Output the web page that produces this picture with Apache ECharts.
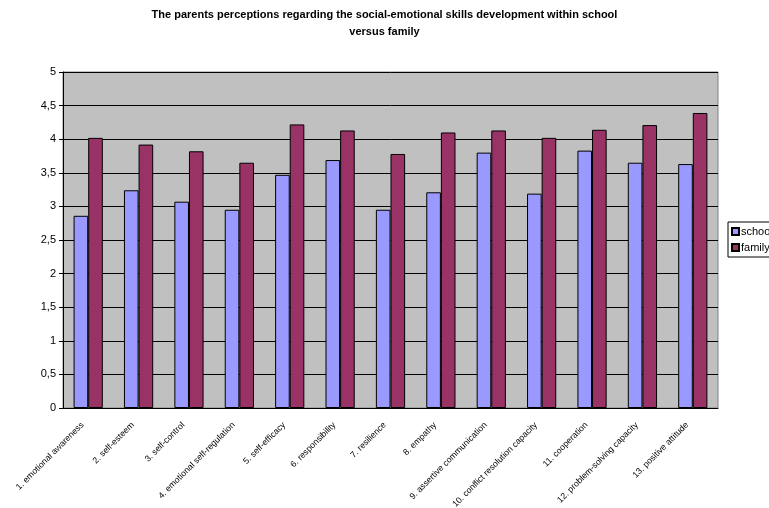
<!DOCTYPE html>
<html>
<head>
<meta charset="utf-8">
<script src="https://cdn.jsdelivr.net/npm/echarts@6/dist/echarts.min.js"></script>
<style>
  html, body { margin: 0; padding: 0; background: #fff; }
  #chart { width: 769px; height: 508px; }
</style>
</head>
<body>
<div id="chart"></div>
<script>
// categories + values
const categories = [
    '1. emotional awareness', '2. self-esteem', '3. self-control', '4. emotional self-regulation',
    '5. self-efficacy', '6. responsibility', '7. resilience', '8. empathy',
    '9. assertive communication', '10. conflict resolution capacity', '11. cooperation',
    '12. problem-solving capacity', '13. positive attitude'
];
const schoolValues = [2.86, 3.24, 3.07, 2.95, 3.47, 3.69, 2.95, 3.21, 3.80, 3.19, 3.83, 3.65, 3.63];
const familyValues = [4.02, 3.92, 3.82, 3.65, 4.22, 4.13, 3.78, 4.10, 4.13, 4.02, 4.14, 4.21, 4.39];
const yTicks = [0, 0.5, 1, 1.5, 2, 2.5, 3, 3.5, 4, 4.5, 5];

const chart = echarts.init(document.getElementById('chart'));
const font = 'Liberation Sans, Arial, sans-serif';

chart.setOption({
    animation: false,
    textStyle: { fontFamily: font },
    title: {
        text: 'The parents perceptions regarding the social-emotional skills development within school\nversus family',
        left: 'center', top: 1,
        textStyle: { fontSize: 11, fontWeight: 'bold', color: '#000', fontFamily: font, lineHeight: 17 }
    },
    legend: {
        orient: 'vertical', left: 728, top: 222,
        icon: 'rect',
        itemWidth: 7, itemHeight: 7, itemGap: 5,
        padding: [4, 30, 4, 3],
        borderColor: '#000', borderWidth: 1,
        textStyle: { fontSize: 11, color: '#000', padding: [0, 0, 0, -3] },
        data: ['school', 'family']
    },
    grid: {
        left: 63, right: 51, top: 72, bottom: 100,
        outerBoundsMode: 'none', containLabel: false,
        show: true, backgroundColor: '#C0C0C0', borderColor: '#808080', borderWidth: 1
    },
    xAxis: {
        type: 'category', data: categories,
        axisLine: { lineStyle: { color: '#000' } },
        axisTick: { lineStyle: { color: '#000' }, length: 4 },
        axisLabel: { interval: 0, rotate: 45, fontSize: 8.7, color: '#000', margin: 10, padding: [0, 8, 0, 0] }
    },
    yAxis: {
        type: 'value', min: 0, max: 5, interval: 0.5,
        axisLine: { show: true, lineStyle: { color: '#000' } },
        axisTick: { show: true, length: 4, lineStyle: { color: '#000' } },
        axisLabel: { fontSize: 11, color: '#000', margin: 7,
            formatter: v => yTicks.includes(v) ? String(v).replace('.', ',') : '' },
        splitLine: { lineStyle: { color: '#000', width: 1 } }
    },
    series: [
        { name: 'school', type: 'bar', data: schoolValues, barGap: '0%', barCategoryGap: '42%',
          itemStyle: { color: '#9999FF', borderColor: '#000', borderWidth: 1 } },
        { name: 'family', type: 'bar', data: familyValues, barGap: '0%', barCategoryGap: '42%',
          itemStyle: { color: '#993366', borderColor: '#000', borderWidth: 1 } }
    ]
});
</script>
</body>
</html>
